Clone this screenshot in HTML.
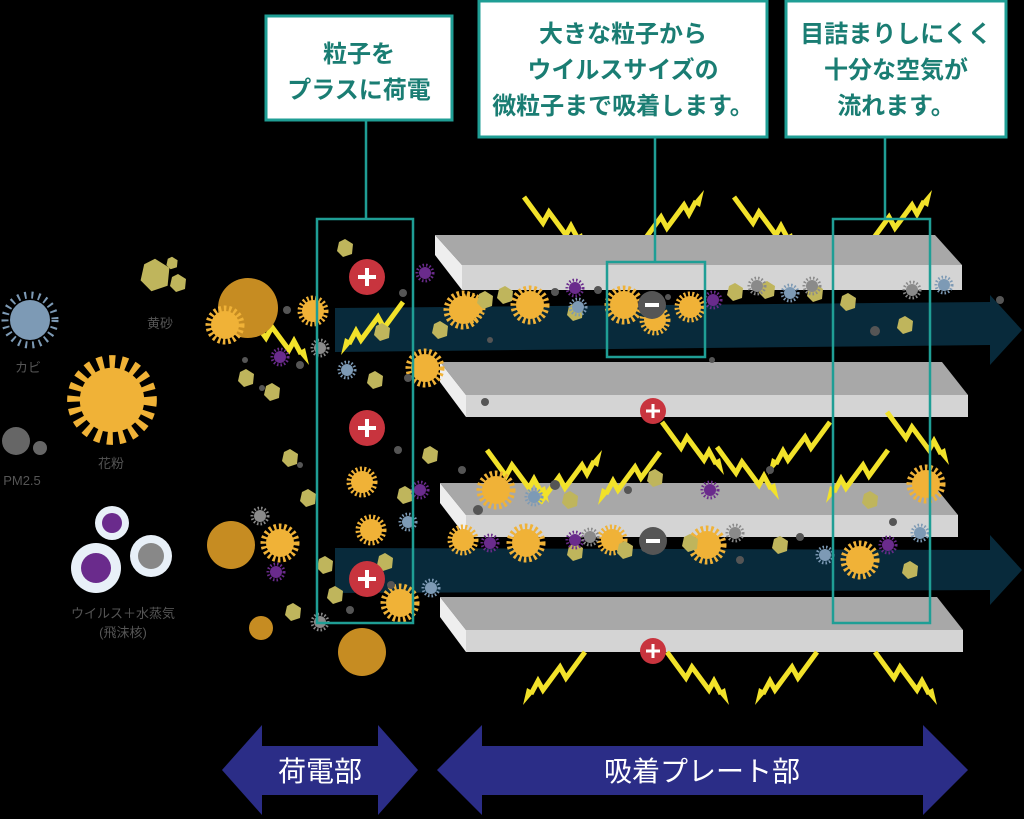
<!DOCTYPE html>
<html><head><meta charset="utf-8"><style>
html,body{margin:0;padding:0;background:#000;}
svg{display:block}
.t{font-family:"Liberation Sans","Noto Sans CJK JP",sans-serif;}
</style></head><body>
<svg width="1024" height="819" viewBox="0 0 1024 819" xmlns="http://www.w3.org/2000/svg">
<defs>
<g id="bolt"><polyline points="2,2 21,28 27,17 44,40 49,31 56,44" fill="none" stroke="#f2e22a" stroke-width="5" stroke-linejoin="miter"/><polygon points="53,42 60,38 64,55" fill="#f2e22a"/></g>
<g id="sun"><circle r="11" fill="#f0b237"/><circle r="13" fill="none" stroke="#f0b237" stroke-width="5" stroke-dasharray="2 2.2"/></g>
<g id="sunb"><circle r="14" fill="#f0b237"/><circle r="16.5" fill="none" stroke="#f0b237" stroke-width="6" stroke-dasharray="2.5 2.6"/></g>
<g id="hex"><polygon points="0,-9 8,-4 7,6 -2,9 -8,3 -6,-6" fill="#bfb55c"/></g>
<g id="vir"><circle r="6" fill="#6a2b8c"/><circle r="8" fill="none" stroke="#6a2b8c" stroke-width="3" stroke-dasharray="1.5 2"/></g>
<g id="blu"><circle r="6" fill="#7d9ab5"/><circle r="8" fill="none" stroke="#7d9ab5" stroke-width="3" stroke-dasharray="1.5 2"/></g>
<g id="gry"><circle r="6" fill="#8a8a8a"/><circle r="8" fill="none" stroke="#8a8a8a" stroke-width="3" stroke-dasharray="1.5 2"/></g>
<g id="plus"><circle r="18" fill="#c8343e"/><rect x="-9" y="-2" width="18" height="4" fill="#fff"/><rect x="-2" y="-9" width="4" height="18" fill="#fff"/></g>
<g id="plusS"><circle r="13" fill="#c8343e"/><rect x="-7" y="-1.5" width="14" height="3" fill="#fff"/><rect x="-1.5" y="-7" width="3" height="14" fill="#fff"/></g>
<g id="minus"><circle r="14" fill="#555"/><rect x="-7" y="-2" width="14" height="4" fill="#fff"/></g>
</defs>

<polygon points="335,308 990,302 990,295 1022,330 990,365 990,345 335,352" fill="#082a3b"/>
<polygon points="335,548 990,550 990,535 1022,570 990,605 990,590 335,593" fill="#082a3b"/>

<use href="#bolt" transform="translate(522,195)"/>
<use href="#bolt" transform="translate(640,245) scale(1,-1)"/>
<use href="#bolt" transform="translate(732,195)"/>
<use href="#bolt" transform="translate(868,245) scale(1,-1)"/>

<polygon points="435,235 935,235 962,265 462,265" fill="#a8a8a8"/>
<polygon points="435,235 462,265 462,290 435,255" fill="#eee"/>
<polygon points="462,265 962,265 962,290 462,290" fill="#d4d4d4"/>
<polygon points="440,362 942,362 968,395 466,395" fill="#a8a8a8"/>
<polygon points="440,362 466,395 466,417 440,382" fill="#eee"/>
<polygon points="466,395 968,395 968,417 466,417" fill="#d4d4d4"/>
<polygon points="440,483 932,483 958,515 466,515" fill="#a8a8a8"/>
<polygon points="440,483 466,515 466,537 440,503" fill="#eee"/>
<polygon points="466,515 958,515 958,537 466,537" fill="#d4d4d4"/>
<polygon points="440,597 937,597 963,630 466,630" fill="#a8a8a8"/>
<polygon points="440,597 466,630 466,652 440,617" fill="#eee"/>
<polygon points="466,630 963,630 963,652 466,652" fill="#d4d4d4"/>

<use href="#bolt" transform="translate(538,455) scale(1,-1) translate(0,-50)"/>
<use href="#bolt" transform="translate(660,420)"/>
<use href="#bolt" transform="translate(770,420) scale(-1,1) translate(-62,0)"/>
<use href="#bolt" transform="translate(885,410)"/>
<use href="#bolt" transform="translate(485,448)"/>
<use href="#bolt" transform="translate(600,450) scale(-1,1) translate(-62,0)"/>
<use href="#bolt" transform="translate(715,445)"/>
<use href="#bolt" transform="translate(828,448) scale(-1,1) translate(-62,0)"/>
<use href="#bolt" transform="translate(525,650) scale(-1,1) translate(-62,0)"/>
<use href="#bolt" transform="translate(665,650)"/>
<use href="#bolt" transform="translate(757,650) scale(-1,1) translate(-62,0)"/>
<use href="#bolt" transform="translate(873,650)"/>
<use href="#bolt" transform="translate(245,310)"/>
<use href="#bolt" transform="translate(355,300) scale(-1,1) translate(-50,0)"/>

<circle cx="248" cy="308" r="30" fill="#c68c22"/>
<circle cx="231" cy="545" r="24" fill="#c68c22"/>
<circle cx="362" cy="652" r="24" fill="#c68c22"/>
<circle cx="261" cy="628" r="12" fill="#c68c22"/>
<use href="#sunb" transform="translate(225,325)"/>
<use href="#sunb" transform="translate(280,543)"/>

<g>
<use href="#sun" transform="translate(313,311)"/><use href="#sun" transform="translate(362,482)"/><use href="#sun" transform="translate(371,530)"/>
<use href="#sunb" transform="translate(400,603)"/><use href="#sunb" transform="translate(425,368)"/><use href="#sun" transform="translate(470,308)"/>
<use href="#sunb" transform="translate(463,310)"/><use href="#sunb" transform="translate(530,305)"/><use href="#sunb" transform="translate(624,305)"/>
<use href="#sun" transform="translate(655,320)"/><use href="#sun" transform="translate(690,307)"/><use href="#sunb" transform="translate(496,490)"/>
<use href="#sunb" transform="translate(526,543)"/><use href="#sunb" transform="translate(707,545)"/><use href="#sunb" transform="translate(860,560)"/>
<use href="#sun" transform="translate(463,540)"/><use href="#sunb" transform="translate(926,484)"/><use href="#sun" transform="translate(612,540)"/>
<use href="#hex" transform="translate(345,248)"/><use href="#hex" transform="translate(382,332)"/><use href="#hex" transform="translate(375,380)"/>
<use href="#hex" transform="translate(272,392)"/><use href="#hex" transform="translate(246,378)"/><use href="#hex" transform="translate(290,458)"/>
<use href="#hex" transform="translate(308,498)"/><use href="#hex" transform="translate(405,495)"/><use href="#hex" transform="translate(430,455)"/>
<use href="#hex" transform="translate(385,562)"/><use href="#hex" transform="translate(325,565)"/><use href="#hex" transform="translate(293,612)"/>
<use href="#hex" transform="translate(335,595)"/><use href="#hex" transform="translate(440,330)"/><use href="#hex" transform="translate(485,300)"/>
<use href="#hex" transform="translate(505,295)"/><use href="#hex" transform="translate(575,312)"/><use href="#hex" transform="translate(735,292)"/>
<use href="#hex" transform="translate(767,290)"/><use href="#hex" transform="translate(815,293)"/><use href="#hex" transform="translate(905,325)"/>
<use href="#hex" transform="translate(848,302)"/><use href="#hex" transform="translate(570,500)"/><use href="#hex" transform="translate(655,478)"/>
<use href="#hex" transform="translate(690,543)"/><use href="#hex" transform="translate(625,550)"/><use href="#hex" transform="translate(780,545)"/>
<use href="#hex" transform="translate(870,500)"/><use href="#hex" transform="translate(910,570)"/><use href="#hex" transform="translate(575,552)"/>
<use href="#hex" transform="translate(155,275) scale(1.8)"/><use href="#hex" transform="translate(178,283)"/><use href="#hex" transform="translate(172,263) scale(0.7)"/>
<use href="#vir" transform="translate(425,273)"/><use href="#vir" transform="translate(280,357)"/><use href="#vir" transform="translate(276,572)"/>
<use href="#vir" transform="translate(575,288)"/><use href="#vir" transform="translate(713,300)"/><use href="#vir" transform="translate(710,490)"/>
<use href="#vir" transform="translate(490,543)"/><use href="#vir" transform="translate(575,540)"/><use href="#vir" transform="translate(888,545)"/>
<use href="#vir" transform="translate(420,490)"/><use href="#blu" transform="translate(347,370)"/><use href="#blu" transform="translate(408,522)"/>
<use href="#blu" transform="translate(431,588)"/><use href="#blu" transform="translate(578,307)"/><use href="#blu" transform="translate(534,497)"/>
<use href="#blu" transform="translate(790,293)"/><use href="#blu" transform="translate(944,285)"/><use href="#blu" transform="translate(825,555)"/>
<use href="#blu" transform="translate(920,533)"/><use href="#gry" transform="translate(320,348)"/><use href="#gry" transform="translate(260,516)"/>
<use href="#gry" transform="translate(320,622)"/><use href="#gry" transform="translate(757,286)"/><use href="#gry" transform="translate(812,286)"/>
<use href="#gry" transform="translate(590,537)"/><use href="#gry" transform="translate(735,533)"/><use href="#gry" transform="translate(912,290)"/>
</g>
<g fill="#555">
<circle cx="287" cy="310" r="4"/><circle cx="300" cy="365" r="4"/><circle cx="403" cy="293" r="4"/><circle cx="408" cy="378" r="4"/>
<circle cx="398" cy="450" r="4"/><circle cx="245" cy="360" r="3"/><circle cx="262" cy="388" r="3"/><circle cx="300" cy="465" r="3"/>
<circle cx="391" cy="585" r="4"/><circle cx="555" cy="292" r="4"/><circle cx="598" cy="290" r="4"/><circle cx="490" cy="340" r="3"/>
<circle cx="485" cy="402" r="4"/><circle cx="668" cy="297" r="3"/><circle cx="712" cy="360" r="3"/><circle cx="875" cy="331" r="5"/>
<circle cx="478" cy="510" r="5"/><circle cx="555" cy="485" r="5"/><circle cx="628" cy="490" r="4"/><circle cx="770" cy="470" r="4"/>
<circle cx="645" cy="548" r="4"/><circle cx="740" cy="560" r="4"/><circle cx="800" cy="537" r="4"/><circle cx="893" cy="522" r="4"/>
<circle cx="462" cy="470" r="4"/><circle cx="350" cy="610" r="4"/><circle cx="1000" cy="300" r="4"/>
</g>

<use href="#plus" transform="translate(367,277)"/>
<use href="#plus" transform="translate(367,428)"/>
<use href="#plus" transform="translate(367,579)"/>
<use href="#plusS" transform="translate(653,411)"/>
<use href="#plusS" transform="translate(653,651)"/>
<use href="#minus" transform="translate(652,305)"/>
<use href="#minus" transform="translate(653,541)"/>

<g fill="none" stroke="#1f9e95" stroke-width="2.5">
<rect x="317" y="219" width="96" height="404"/>
<rect x="607" y="262" width="98" height="95"/>
<rect x="833" y="219" width="97" height="404"/>
<line x1="366" y1="120" x2="366" y2="219"/>
<line x1="655" y1="137" x2="655" y2="262"/>
<line x1="885" y1="137" x2="885" y2="219"/>
</g>

<g fill="#fff" stroke="#1f9e95" stroke-width="3">
<rect x="266" y="16" width="186" height="104"/>
<rect x="479" y="1" width="288" height="136"/>
<rect x="786" y="1" width="220" height="136"/>
</g>
<g class="t" fill="#1a7d73" font-weight="bold" font-size="24" text-anchor="middle">
<text x="359" y="62">粒子を</text>
<text x="359" y="98">プラスに荷電</text>
<text x="623" y="42">大きな粒子から</text>
<text x="623" y="78">ウイルスサイズの</text>
<text x="623" y="114">微粒子まで吸着します。</text>
<text x="896" y="42">目詰まりしにくく</text>
<text x="896" y="78">十分な空気が</text>
<text x="896" y="114">流れます。</text>
</g>

<circle cx="30" cy="320" r="20" fill="#7d9ab5"/>
<circle cx="30" cy="320" r="25" fill="none" stroke="#7d9ab5" stroke-width="7" stroke-dasharray="2 5"/>
<use href="#sunb" transform="translate(112,400) scale(2.3)"/>
<circle cx="16" cy="441" r="14" fill="#666"/><circle cx="40" cy="448" r="7" fill="#666"/>
<circle cx="112" cy="523" r="17" fill="#e8f0f8"/><circle cx="112" cy="523" r="10" fill="#6a2b8c"/>
<circle cx="96" cy="568" r="25" fill="#e8f0f8"/><circle cx="96" cy="568" r="15" fill="#6a2b8c"/>
<circle cx="151" cy="556" r="21" fill="#e8f0f8"/><circle cx="151" cy="556" r="13" fill="#888"/>
<g class="t" fill="#555" font-size="13" text-anchor="middle">
<text x="28" y="372">カビ</text>
<text x="160" y="328">黄砂</text>
<text x="111" y="468">花粉</text>
<text x="22" y="485">PM2.5</text>
<text x="123" y="618">ウイルス＋水蒸気</text>
<text x="123" y="637">(飛沫核)</text>
</g>

<polygon points="222,770 262,725 262,746 378,746 378,725 418,770 378,815 378,795 262,795 262,815" fill="#2b2d87"/>
<polygon points="437,770 482,725 482,746 923,746 923,725 968,770 923,815 923,795 482,795 482,815" fill="#2b2d87"/>
<g class="t" fill="#fff" font-size="28" text-anchor="middle">
<text x="320" y="781">荷電部</text>
<text x="702" y="781">吸着プレート部</text>
</g>
</svg>
</body></html>
